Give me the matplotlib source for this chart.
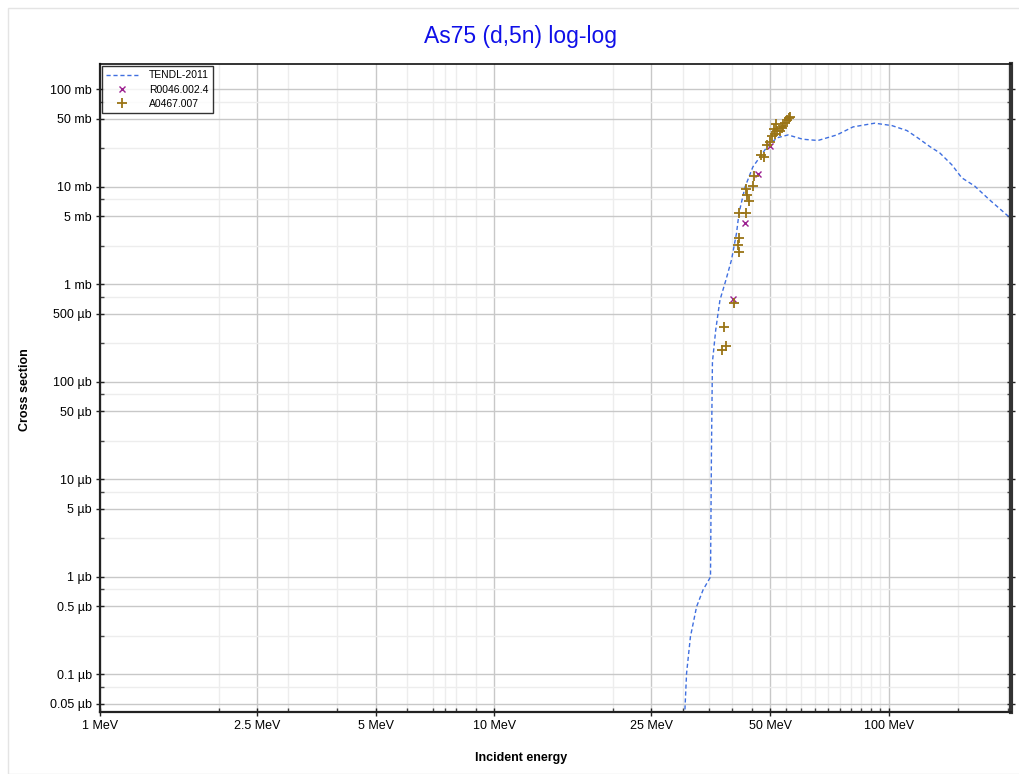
import matplotlib
matplotlib.use("Agg")
import matplotlib.pyplot as plt
from matplotlib.patches import Rectangle
from matplotlib.ticker import FixedLocator, FixedFormatter, NullFormatter

plt.rcParams["font.family"] = ["Liberation Sans", "DejaVu Sans"]

# TENDL-2011 evaluation (energy in MeV, cross section in mb)
tendl_e = [30.2, 30.4, 30.7, 31.4, 32.55, 33.8, 35.3, 35.5, 35.7, 36.4, 37.3, 38.6,
           39.9, 41.1, 41.7, 43.2, 45.2, 49.1, 52.0, 55.5, 60.5, 66.1, 73.8, 81.1,
           92.1, 101.8, 111.1, 118.4, 127.0, 134.6, 144.5, 153.0, 165.0, 180.0, 203.0, 210.0]
tendl_xs = [1e-5, 4.3e-5, 1.03e-4, 2.44e-4, 4.96e-4, 7.36e-4, 1.0e-3, 0.02, 0.16, 0.343, 0.69, 1.1,
            1.78, 3.37, 5.41, 10.0, 16.0, 25.7, 31.8, 34.1, 30.8, 29.9, 34.1, 41.2,
            45.0, 42.5, 37.8, 31.8, 25.9, 22.3, 16.8, 12.4, 10.2, 7.36, 4.81, 4.3]

# EXFOR R0046.002.4
r0046_e = [40.24, 43.15, 46.56, 49.94]
r0046_xs = [0.712, 4.28, 13.6, 26.3]

# EXFOR A0467.007
a0467_e = [37.73, 38.63, 38.18, 40.47, 41.68, 41.43, 41.68, 41.68, 43.40, 44.17,
           43.65, 43.40, 45.21, 45.48, 47.38, 48.22, 49.07, 49.94, 50.52, 51.41,
           51.11, 51.71, 52.01, 52.93, 53.55, 53.86, 54.50, 55.14, 55.79, 56.11]
a0467_xs = [0.214, 0.235, 0.368, 0.648, 2.16, 2.55, 3.00, 5.42, 5.42, 7.19,
            8.28, 9.54, 10.2, 12.96, 21.3, 20.3, 26.9, 28.9, 33.3, 34.9,
            39.3, 44.2, 37.5, 37.5, 40.2, 42.2, 45.3, 48.6, 50.9, 52.1]

# axis ticks
x_ticks = [1, 2.5, 5, 10, 25, 50, 100]
x_labels = ["1 MeV", "2.5 MeV", "5 MeV", "10 MeV", "25 MeV", "50 MeV", "100 MeV"]
x_minor = [2, 3, 4, 6, 7, 7.5, 8, 9, 20, 30, 35, 40, 45, 55, 60, 65, 70, 75, 80, 85, 90, 95, 150, 200]
y_ticks = [100, 50, 10, 5, 1, 0.5, 0.1, 0.05, 0.01, 0.005, 0.001, 5e-4, 1e-4, 5e-5]
y_labels = ["100 mb", "50 mb", "10 mb", "5 mb", "1 mb", "500 µb", "100 µb", "50 µb",
            "10 µb", "5 µb", "1 µb", "0.5 µb", "0.1 µb", "0.05 µb"]
y_minor = [75, 25, 7.5, 2.5, 0.75, 0.25, 0.075, 0.025, 0.0075, 0.0025, 7.5e-4, 2.5e-4, 7.5e-5]

fig = plt.figure(figsize=(10.2, 7.74), dpi=100)
# faint outer frame
fig.patches.append(Rectangle((8 / 1020, 0), 1.0, 1 - 8 / 774, transform=fig.transFigure,
                             fill=False, edgecolor="#e4e4e4", lw=1.0))

ax = fig.add_axes([100 / 1020, 1 - 712 / 774, 911 / 1020, 648 / 774])
ax.set_xscale("log")
ax.set_yscale("log")
ax.set_xlim(1, 204)
ax.set_ylim(4.12e-5, 182)

ax.plot(tendl_e, tendl_xs, color="#3f6fe0", lw=1.0, dashes=(3, 2), label="TENDL-2011")
ax.plot(r0046_e, r0046_xs, ls="none", marker="x", ms=5, mew=1.0, color="#9b1f8f", label="R0046.002.4")
ax.plot(a0467_e, a0467_xs, ls="none", marker="+", ms=7.5, mew=1.3, color="#9a7416", label="A0467.007")

ax.xaxis.set_major_locator(FixedLocator(x_ticks))
ax.xaxis.set_major_formatter(FixedFormatter(x_labels))
ax.xaxis.set_minor_locator(FixedLocator(x_minor))
ax.xaxis.set_minor_formatter(NullFormatter())
ax.yaxis.set_major_locator(FixedLocator(y_ticks))
ax.yaxis.set_major_formatter(FixedFormatter(y_labels))
ax.yaxis.set_minor_locator(FixedLocator(y_minor))
ax.yaxis.set_minor_formatter(NullFormatter())

ax.grid(which="major", color="#c8c8c8", lw=1.0)
ax.grid(which="minor", color="#ededed", lw=1.0)
ax.set_axisbelow(True)

ax.tick_params(which="major", direction="inout", length=6, width=1, labelsize=9,
               top=False, right=True, pad=3, colors="#222222", labelcolor="black")
ax.tick_params(which="minor", direction="in", length=3, width=1, top=False, right=True,
               colors="#444444")
for side in ["left", "bottom"]:
    ax.spines[side].set_linewidth(1.6)
    ax.spines[side].set_color("#222222")
ax.spines["right"].set_linewidth(3)
ax.spines["right"].set_color("#333333")
ax.spines["top"].set_linewidth(1.2)
ax.spines["top"].set_color("#111111")

fig.text(521 / 1020, 1 - 758 / 774, "Incident energy", fontsize=9, fontweight="bold",
         ha="center", va="center")
fig.text(25 / 1020, 1 - 390 / 774, "Cross section", fontsize=9, fontweight="bold",
         ha="center", va="center", rotation=90)
fig.text(521 / 1020, 1 - 36 / 774, "As75 (d,5n) log-log", fontsize=16.5, color="#1010e8",
         ha="center", va="center")

leg = ax.legend(loc="upper left", fontsize=7.5, frameon=True, fancybox=False,
                borderaxespad=0.2, handlelength=3.0, handletextpad=1.1, labelspacing=0.42,
                borderpad=0.4)
leg.get_frame().set_edgecolor("black")
leg.get_frame().set_linewidth(1.0)

fig.savefig("out.png", dpi=100)
